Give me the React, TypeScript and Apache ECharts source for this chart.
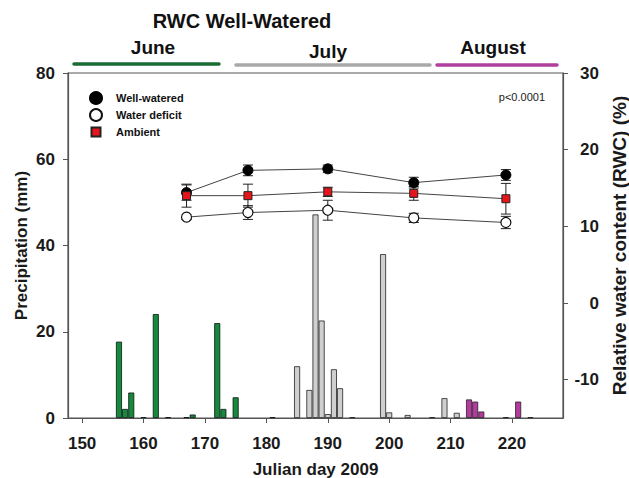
import React, { useEffect, useRef } from "react";
import * as echarts from "echarts";

const juneDays = [156, 157, 158, 160, 162, 164, 167, 168, 172, 173, 175, 181];
const juneRain = [17.7, 2.1, 5.9, 0.2, 24.1, 0.2, 0.2, 0.8, 22.0, 2.1, 4.8, 0.2];
const julyDays = [185, 187, 188, 189, 190, 191, 192, 194, 199, 200, 203, 207, 209, 211];
const julyRain = [12.0, 6.5, 47.2, 22.6, 0.9, 11.3, 6.9, 0.2, 38.0, 1.3, 0.7, 0.2, 4.6, 1.2];
const augDays = [213, 214, 215, 219, 221, 223];
const augRain = [4.3, 3.8, 1.5, 0.2, 3.8, 0.2];

const rwcDays = [167, 177, 190, 204, 219];
const wellWatered = [14.4, 17.3, 17.5, 15.7, 16.7];
const wellWateredErr = [1.0, 0.7, 0.5, 0.7, 0.7];
const waterDeficit = [11.2, 11.8, 12.1, 11.1, 10.5];
const waterDeficitErr = [0.3, 0.9, 1.3, 0.6, 0.8];
const ambient = [14.0, 14.0, 14.5, 14.3, 13.6];
const ambientErr = [1.5, 1.5, 0.6, 0.9, 2.0];

const xTicks = [150, 160, 170, 180, 190, 200, 210, 220];
const leftTicks = [0, 20, 40, 60, 80];
const rightTicks = [-10, 0, 10, 20, 30];

const FONT = "'Liberation Sans', Arial, sans-serif";

function pairs(xs: number[], ys: number[]) {
  return xs.map((x, i) => [x, ys[i]]);
}
function errData(xs: number[], ys: number[], es: number[]) {
  return xs.map((x, i) => [x, ys[i] - es[i], ys[i] + es[i]]);
}

function errSeries(data: number[][]) {
  return {
    type: "custom",
    xAxisIndex: 0,
    yAxisIndex: 1,
    z: 3,
    silent: true,
    renderItem: (params: any, api: any) => {
      const x = api.value(0);
      const lo = api.coord([x, api.value(1)]);
      const hi = api.coord([x, api.value(2)]);
      const w = 5;
      const st = { stroke: "#222", lineWidth: 1 };
      return {
        type: "group",
        children: [
          { type: "line", shape: { x1: lo[0], y1: lo[1], x2: hi[0], y2: hi[1] }, style: st },
          { type: "line", shape: { x1: lo[0] - w, y1: lo[1], x2: lo[0] + w, y2: lo[1] }, style: st },
          { type: "line", shape: { x1: hi[0] - w, y1: hi[1], x2: hi[0] + w, y2: hi[1] }, style: st },
        ],
      };
    },
    data,
  };
}

export default function App() {
  const ref = useRef<HTMLDivElement>(null);
  useEffect(() => {
    if (!ref.current) return;
    const chart = echarts.init(ref.current, null, { renderer: "svg" });
    const axisLine = { show: true, lineStyle: { color: "#555", width: 1.2 } };
    const axisLabel = { color: "#1a1a1a", fontSize: 17, fontWeight: "bold", fontFamily: FONT };
    const barBase = { type: "bar", xAxisIndex: 0, yAxisIndex: 0, barWidth: 6, barGap: "-100%", z: 1 };
    chart.setOption({
      animation: false,
      backgroundColor: "#fff",
      textStyle: { fontFamily: FONT },
      grid: {
        left: 68,
        right: 66,
        top: 73,
        bottom: 60,
        show: true,
        borderColor: "#555",
        borderWidth: 1.2,
        containLabel: false,
        outerBoundsMode: "none",
      },
      legend: {
        orient: "vertical",
        left: 84,
        top: 86,
        itemWidth: 12,
        itemHeight: 12,
        itemGap: 3,
        textStyle: { fontSize: 11, fontWeight: "bold", color: "#111", fontFamily: FONT, padding: [0, 0, 0, 9] },
        data: [
          { name: "Well-watered", icon: "circle" },
          { name: "Water deficit", icon: "circle" },
          { name: "Ambient", icon: "path://M0,0M12,12M1.5,1.5L10.5,1.5L10.5,10.5L1.5,10.5Z" },
        ],
      },
      xAxis: [
        {
          type: "value",
          min: 147.7,
          max: 228.3,
          name: "Julian day 2009",
          nameLocation: "middle",
          nameGap: 43,
          nameTextStyle: { fontSize: 17, fontWeight: "bold", color: "#1a1a1a", fontFamily: FONT },
          axisLine,
          axisTick: { show: true, inside: false, length: 5, customValues: xTicks, lineStyle: { color: "#555" } },
          axisLabel: { ...axisLabel, margin: 17, customValues: xTicks },
          splitLine: { show: false },
        },
      ],
      yAxis: [
        {
          type: "value",
          min: 0,
          max: 80,
          interval: 20,
          name: "Precipitation (mm)",
          nameLocation: "middle",
          nameGap: 38,
          nameMoveOverlap: false,
          nameTextStyle: { fontSize: 17, fontWeight: "bold", color: "#1a1a1a", fontFamily: FONT },
          axisLine,
          axisTick: { show: true, length: 5, lineStyle: { color: "#555" }, customValues: leftTicks },
          axisLabel: { ...axisLabel, margin: 13, customValues: leftTicks },
          splitLine: { show: false },
        },
        {
          type: "value",
          min: -15,
          max: 30,
          position: "right",
          name: "Relative water content (RWC) (%)",
          nameLocation: "middle",
          nameGap: 44,
          nameRotate: 90,
          nameTextStyle: { fontSize: 19, fontWeight: "bold", color: "#1a1a1a", fontFamily: FONT },
          axisLine,
          axisTick: { show: true, length: 5, lineStyle: { color: "#555" }, customValues: rightTicks },
          axisLabel: { ...axisLabel, margin: 36, align: "right", customValues: rightTicks },
          splitLine: { show: false },
        },
      ],
      graphic: [
        { type: "text", x: 242, y: 21, style: { text: "RWC Well-Watered", font: `bold 20px ${FONT}`, fill: "#111", align: "center", verticalAlign: "middle" } },
        { type: "text", x: 153, y: 47, style: { text: "June", font: `bold 19px ${FONT}`, fill: "#111", align: "center", verticalAlign: "middle" } },
        { type: "text", x: 328, y: 51, style: { text: "July", font: `bold 19px ${FONT}`, fill: "#111", align: "center", verticalAlign: "middle" } },
        { type: "text", x: 493, y: 47, style: { text: "August", font: `bold 19px ${FONT}`, fill: "#111", align: "center", verticalAlign: "middle" } },
        { type: "line", shape: { x1: 74, y1: 64, x2: 219, y2: 64 }, style: { stroke: "#1b6b35", lineWidth: 3.5, lineCap: "round" } },
        { type: "line", shape: { x1: 236, y1: 65, x2: 430, y2: 65 }, style: { stroke: "#a9a9a9", lineWidth: 3.5, lineCap: "round" } },
        { type: "line", shape: { x1: 437, y1: 65, x2: 557, y2: 65 }, style: { stroke: "#b040a0", lineWidth: 3.5, lineCap: "round" } },
        { type: "text", x: 545, y: 97, style: { text: "p<0.0001", font: `11px ${FONT}`, fill: "#222", align: "right", verticalAlign: "middle" } },
      ],
      series: [
        { ...barBase, name: "June rain", data: pairs(juneDays, juneRain), itemStyle: { color: "#138a3c", borderColor: "#111", borderWidth: 0.8 } },
        { ...barBase, name: "July rain", data: pairs(julyDays, julyRain), itemStyle: { color: "#cfcfcf", borderColor: "#222", borderWidth: 0.8 } },
        { ...barBase, name: "August rain", data: pairs(augDays, augRain), itemStyle: { color: "#b53a9f", borderColor: "#222", borderWidth: 0.8 } },
        errSeries(errData(rwcDays, wellWatered, wellWateredErr)),
        errSeries(errData(rwcDays, ambient, ambientErr)),
        errSeries(errData(rwcDays, waterDeficit, waterDeficitErr)),
        {
          type: "line",
          name: "Well-watered",
          xAxisIndex: 0,
          yAxisIndex: 1,
          z: 5,
          data: pairs(rwcDays, wellWatered),
          symbol: "circle",
          symbolSize: 10,
          lineStyle: { color: "#444", width: 1 },
          itemStyle: { color: "#000", borderColor: "#000", borderWidth: 1 },
        },
        {
          type: "line",
          name: "Water deficit",
          xAxisIndex: 0,
          yAxisIndex: 1,
          z: 5,
          data: pairs(rwcDays, waterDeficit),
          symbol: "circle",
          symbolSize: 10,
          lineStyle: { color: "#444", width: 1 },
          itemStyle: { color: "#fff", borderColor: "#111", borderWidth: 1.2 },
        },
        {
          type: "line",
          name: "Ambient",
          xAxisIndex: 0,
          yAxisIndex: 1,
          z: 6,
          data: pairs(rwcDays, ambient),
          symbol: "rect",
          symbolSize: 8,
          lineStyle: { color: "#444", width: 1 },
          itemStyle: { color: "#e8141b", borderColor: "#222", borderWidth: 1 },
        },
      ],
    });
    return () => chart.dispose();
  }, []);
  return <div ref={ref} style={{ width: 629, height: 478, position: "absolute", left: 0, top: 0 }} />;
}
